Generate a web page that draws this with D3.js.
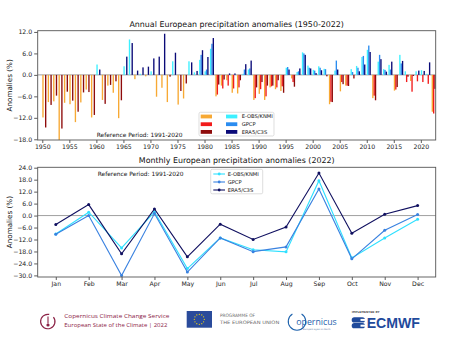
<!DOCTYPE html>
<html><head><meta charset="utf-8">
<script src="https://cdn.jsdelivr.net/npm/d3@7"></script>
<style>
body{margin:0;background:#fff;}
svg{display:block;font-family:"DejaVu Sans",sans-serif;}
</style>
</head><body>
<svg id="chart" width="474" height="338"></svg>
<script>
// ---- Annual anomalies (%), 1950-2022 ----
const years = d3.range(1950, 2023);
const eobs = [-11.9,-7.6,-7.4,-18.6,-7.8,-8.2,-13.2,-7.7,-4.1,-11.9,
  2.9,-7.0,-3.0,-5.0,-12.1,2.4,9.9,-1.2,0.3,-0.4,
  1.0,-6.1,-3.6,-7.6,3.8,-8.3,-6.6,3.8,0.7,4.2,
  1.0,7.3,-6.0,-3.0,-1.5,-5.0,-5.2,0.3,1.5,-7.0,
  -5.3,-7.0,-3.5,-4.0,-4.5,2.0,-1.0,0.8,6.3,2.6,
  1.4,2.4,1.7,-8.2,1.2,-4.6,-3.0,1.6,2.5,5.0,
  7.0,-6.5,3.7,1.6,2.8,-4.4,5.6,1.0,-1.7,1.0,
  1.3,0.3,-10.3];
const gpcp = [null,null,null,null,null,null,null,null,null,null,
  null,null,null,null,null,null,null,null,null,null,
  null,null,null,null,null,null,null,null,null,5.6,
  1.5,8.7,-5.5,-3.8,-3.0,-3.8,-3.5,1.5,1.8,-6.5,
  -4.0,-6.0,-3.2,-3.5,-3.2,2.2,-2.0,1.0,6.0,2.0,
  1.2,2.0,1.6,-7.5,4.0,-2.0,-3.0,0.8,2.0,5.3,
  8.2,-5.8,5.6,1.4,1.5,-4.1,3.2,-2.0,-4.7,-1.8,
  -2.0,-2.5,-10.8];
const era5 = [-14.7,-8.4,-5.8,-15.0,-4.7,-7.2,-10.3,-4.9,-4.8,-11.2,
  1.5,-8.1,-2.8,-1.8,-7.1,5.1,8.9,1.2,2.1,2.3,
  4.6,5.1,11.5,-0.5,6.2,-4.5,-2.4,3.5,1.1,6.9,
  5.0,10.3,-2.7,-1.3,0.4,0.4,-1.5,3.0,4.0,-3.5,
  -2.0,-3.0,-3.0,-1.5,-5.0,1.5,-3.3,1.8,5.6,1.8,
  0.5,1.3,-0.4,-7.6,1.5,-2.6,-3.1,-1.0,1.0,2.9,
  6.4,-7.1,4.4,0.9,3.7,-3.4,3.9,-0.5,-0.3,1.2,
  1.1,3.5,-3.9];
const yearTicks = [1950,1955,1960,1965,1970,1975,1980,1985,1990,1995,2000,2005,2010,2015,2020];
const annualTicks = [-18,-12,-6,0,6,12];

// ---- Monthly anomalies (%), 2022 ----
const months = ["Jan","Feb","Mar","Apr","May","Jun","Jul","Aug","Sep","Oct","Nov","Dec"];
const eobsM = [-9.2,1.7,-16.2,1.8,-26.6,-11.2,-17.1,-18.2,17.5,-21.2,-11.2,-1.8];
const gpcpM = [-9.4,0.0,-30.1,1.0,-28.3,-11.2,-18.1,-15.7,13.3,-21.7,-7.4,0.5];
const era5M = [-4.5,5.5,-19.2,3.3,-20.7,-4.3,-12.0,-5.7,21.3,-8.9,0.7,5.0];
const monthlyTicks = [-30,-24,-18,-12,-6,0,6,12,18,24];

const datasets = [
  {name:"E-OBS/KNMI", annual:eobs, monthly:eobsM, neg:"#f7a934", pos:"#3cf0ff", line:"#2fe0ff"},
  {name:"GPCP",       annual:gpcp, monthly:gpcpM, neg:"#f21c1c", pos:"#2a8cf0", line:"#3a82e0"},
  {name:"ERA5/C3S",   annual:era5, monthly:era5M, neg:"#8e0b0b", pos:"#0a0a78", line:"#101060"}
];

const svg = d3.select("#chart");
const fmt = d3.format(".1f");
const tickFont = 6.2;

function styleAxis(g){
  g.select(".domain").remove();
  g.selectAll("line").attr("stroke","#333").attr("stroke-width",0.8);
  g.selectAll("text").attr("font-size",tickFont).attr("fill","#222")
    .attr("font-family","DejaVu Sans, sans-serif");
}

// ================= Annual bar chart =================
const A = {x0:37.7, x1:435.7, y0:30.7, y1:140};
const xA = d3.scaleLinear().domain([1949.15, 2022.75]).range([A.x0, A.x1]);
const yA = d3.scaleLinear().domain([-18.2, 12.35]).range([A.y1, A.y0]);
const barW = 0.25;

svg.append("clipPath").attr("id","clipA").append("rect")
  .attr("x",A.x0).attr("y",A.y0).attr("width",A.x1-A.x0).attr("height",A.y1-A.y0);

const gBars = svg.append("g").attr("clip-path","url(#clipA)");
gBars.append("line").attr("x1",A.x0).attr("x2",A.x1)
  .attr("y1",yA(0)).attr("y2",yA(0)).attr("stroke","#888").attr("stroke-width",0.8);

datasets.forEach((ds, k) => {
  const rows = years.map((yr, i) => ({yr, v: ds.annual[i]})).filter(d => d.v !== null);
  gBars.selectAll(null).data(rows).join("rect")
    .attr("x", d => xA(d.yr + k*barW))
    .attr("width", xA(barW) - xA(0))
    .attr("y", d => yA(Math.max(0, d.v)))
    .attr("height", d => Math.abs(yA(d.v) - yA(0)))
    .attr("fill", d => d.v < 0 ? ds.neg : ds.pos);
});

svg.append("g").attr("transform",`translate(${A.x0},0)`)
  .call(d3.axisLeft(yA).tickValues(annualTicks).tickFormat(fmt).tickSize(3.5).tickPadding(2))
  .call(styleAxis);
svg.append("g").attr("transform",`translate(0,${A.y1})`)
  .call(d3.axisBottom(xA).tickValues(yearTicks).tickFormat(d3.format("d")).tickSize(3).tickPadding(1.5))
  .call(styleAxis);

svg.append("rect").attr("x",A.x0).attr("y",A.y0).attr("width",A.x1-A.x0).attr("height",A.y1-A.y0)
  .attr("fill","none").attr("stroke","#555").attr("stroke-width",0.9);

svg.append("text").attr("x",(A.x0+A.x1)/2).attr("y",26.5).attr("text-anchor","middle")
  .attr("font-size",7.9).attr("fill","#111").text("Annual European precipitation anomalies (1950-2022)");
svg.append("text").attr("transform",`translate(12.2,${(A.y0+A.y1)/2}) rotate(-90)`)
  .attr("text-anchor","middle").attr("font-size",7.2).attr("fill","#111").text("Anomalies (%)");
svg.append("text").attr("x",96.7).attr("y",136.6).attr("font-size",5.9).attr("fill","#111")
  .text("Reference Period: 1991-2020");

// legend: dry swatches | wet swatches | name
const legA = svg.append("g");
legA.append("rect").attr("x",199).attr("y",112.3).attr("width",75).attr("height",23.7).attr("rx",1.5)
  .attr("fill","#fff").attr("fill-opacity",0.85).attr("stroke","#d0d0d0").attr("stroke-width",0.7);
datasets.forEach((ds, k) => {
  const cy = 116.5 + k*7.7;
  legA.append("rect").attr("x",200.7).attr("y",cy-1.9).attr("width",11.3).attr("height",3.8).attr("fill",ds.neg);
  legA.append("rect").attr("x",226).attr("y",cy-1.9).attr("width",11.3).attr("height",3.8).attr("fill",ds.pos);
  legA.append("text").attr("x",241.7).attr("y",cy).attr("dy","0.35em").attr("font-size",5.2)
    .attr("fill","#111").text(ds.name);
});

// ================= Monthly line chart =================
const M = {x0:37.7, x1:435.7, y0:167.3, y1:277};
const xM = d3.scaleLinear().domain([-0.55, 11.55]).range([M.x0, M.x1]);
const yM = d3.scaleLinear().domain([-30.8, 24.2]).range([M.y1, M.y0]);

svg.append("line").attr("x1",M.x0).attr("x2",M.x1).attr("y1",yM(0)).attr("y2",yM(0))
  .attr("stroke","#888").attr("stroke-width",0.8);

const line = d3.line().x((d,i) => xM(i)).y(d => yM(d));
datasets.forEach(ds => {
  svg.append("path").datum(ds.monthly).attr("d",line).attr("fill","none")
    .attr("stroke",ds.line).attr("stroke-width",1.1);
  svg.append("g").selectAll("circle").data(ds.monthly).join("circle")
    .attr("cx",(d,i) => xM(i)).attr("cy",d => yM(d)).attr("r",1.5).attr("fill",ds.line);
});

svg.append("g").attr("transform",`translate(${M.x0},0)`)
  .call(d3.axisLeft(yM).tickValues(monthlyTicks).tickFormat(fmt).tickSize(3.5).tickPadding(2))
  .call(styleAxis);
svg.append("g").attr("transform",`translate(0,${M.y1})`)
  .call(d3.axisBottom(xM).tickValues(d3.range(12)).tickFormat(i => months[i]).tickSize(3).tickPadding(2))
  .call(styleAxis);

svg.append("rect").attr("x",M.x0).attr("y",M.y0).attr("width",M.x1-M.x0).attr("height",M.y1-M.y0)
  .attr("fill","none").attr("stroke","#555").attr("stroke-width",0.9);

svg.append("text").attr("x",(M.x0+M.x1)/2).attr("y",163).attr("text-anchor","middle")
  .attr("font-size",7.9).attr("fill","#111").text("Monthly European precipitation anomalies (2022)");
svg.append("text").attr("transform",`translate(12.2,${(M.y0+M.y1)/2}) rotate(-90)`)
  .attr("text-anchor","middle").attr("font-size",7.2).attr("fill","#111").text("Anomalies (%)");
svg.append("text").attr("x",97.7).attr("y",175.7).attr("font-size",5.9).attr("fill","#111")
  .text("Reference Period: 1991-2020");

const legM = svg.append("g");
legM.append("rect").attr("x",210.7).attr("y",169.3).attr("width",52).attr("height",24.5).attr("rx",1.5)
  .attr("fill","#fff").attr("fill-opacity",0.85).attr("stroke","#d0d0d0").attr("stroke-width",0.7);
datasets.forEach((ds, k) => {
  const cy = 174 + k*8;
  legM.append("line").attr("x1",213.3).attr("x2",225).attr("y1",cy).attr("y2",cy)
    .attr("stroke",ds.line).attr("stroke-width",1.1);
  legM.append("circle").attr("cx",219.2).attr("cy",cy).attr("r",1.4).attr("fill",ds.line);
  legM.append("text").attr("x",227.7).attr("y",cy).attr("dy","0.35em").attr("font-size",5.2)
    .attr("fill","#111").text(ds.name);
});

// ================= Footer logos =================
const foot = svg.append("g");
const c3s = "#8c2246";
foot.append("path").attr("d", d3.arc()({innerRadius:6.6, outerRadius:7.8, startAngle:0.9, endAngle:2*Math.PI+0.2}))
  .attr("transform","translate(47.8,321.5)").attr("fill",c3s);
foot.append("line").attr("x1",48).attr("x2",48).attr("y1",316.5).attr("y2",323.5).attr("stroke",c3s).attr("stroke-width",1.1);
foot.append("circle").attr("cx",48).attr("cy",325).attr("r",1.6).attr("fill",c3s);
foot.append("text").attr("x",64.3).attr("y",318).attr("font-family","Open Sans, sans-serif").attr("font-size",5.9)
  .attr("fill",c3s).attr("textLength",105).attr("lengthAdjust","spacingAndGlyphs").text("Copernicus Climate Change Service");
foot.append("text").attr("x",64.3).attr("y",326.8).attr("font-family","Open Sans, sans-serif").attr("font-size",5.9)
  .attr("fill",c3s).attr("textLength",103).attr("lengthAdjust","spacingAndGlyphs").text("European State of the Climate | 2022");

// EU flag
foot.append("rect").attr("x",186.7).attr("y",311).attr("width",25.3).attr("height",16.7).attr("fill","#2a4b9b");
foot.append("g").selectAll("circle").data(d3.range(12)).join("circle")
  .attr("cx", i => 199.3 + 5*Math.cos(i*Math.PI/6)).attr("cy", i => 319.3 + 5*Math.sin(i*Math.PI/6))
  .attr("r",0.6).attr("fill","#ffdd00");
foot.append("text").attr("x",220).attr("y",317.3).attr("font-size",4.6).attr("fill","#6a6a6a")
  .attr("textLength",35).attr("lengthAdjust","spacingAndGlyphs").text("PROGRAMME OF");
foot.append("text").attr("x",220).attr("y",324.3).attr("font-size",4.6).attr("fill","#6a6a6a")
  .attr("textLength",59.3).attr("lengthAdjust","spacingAndGlyphs").text("THE EUROPEAN UNION");

// Copernicus
const cop = "#1f63ad";
foot.append("path").attr("d", d3.arc()({innerRadius:8.2, outerRadius:9.3, startAngle:0.55, endAngle:2*Math.PI-0.55}))
  .attr("transform","translate(297,321.5)").attr("fill",cop);
foot.append("text").attr("x",296.3).attr("y",325).attr("font-family","Open Sans, sans-serif").attr("font-size",9.5)
  .attr("fill",cop).attr("textLength",40.5).attr("lengthAdjust","spacingAndGlyphs").text("opernicus");
foot.append("text").attr("x",303).attr("y",330).attr("font-size",2.4).attr("fill","#6a7fa8")
  .text("Europe's eyes on Earth");

// ECMWF
const ec = "#1f4a9c";
foot.append("text").attr("x",351.7).attr("y",313.2).attr("font-size",2.8).attr("fill","#555")
  .attr("font-weight","bold").text("IMPLEMENTED BY");
[[317.3],[323.1]].forEach(([y]) => {
  foot.append("rect").attr("x",351.7).attr("y",y).attr("width",13.3).attr("height",5.2).attr("rx",2.6).attr("fill",ec);
  foot.append("path").attr("d",`M${360.5},${y+1.6}L${365.2},${y+1.6}L${365.2},${y+3.6}L${360.5},${y+3.6}Z`).attr("fill","#fff");
});
foot.append("text").attr("x",366.7).attr("y",328.4).attr("font-family","Liberation Sans, Arial, sans-serif")
  .attr("font-weight","bold").attr("font-size",14).attr("fill",ec)
  .attr("textLength",53.3).attr("lengthAdjust","spacingAndGlyphs").text("ECMWF");
</script>
</body></html>
